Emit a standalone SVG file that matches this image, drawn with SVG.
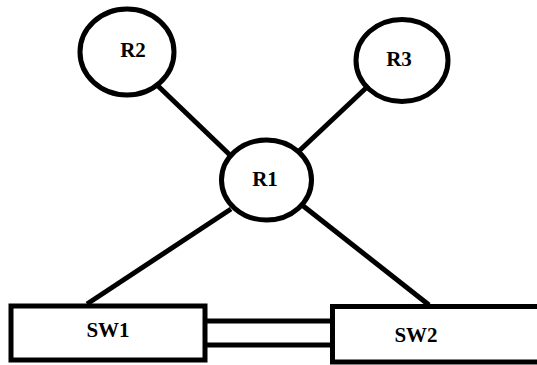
<svg xmlns="http://www.w3.org/2000/svg" width="537" height="365" viewBox="0 0 537 365">
  <style>
    .shape { fill: #ffffff; stroke: #000000; stroke-width: 5; }
    .link { stroke: #000000; stroke-width: 5; fill: none; }
    .label { font-family: "Liberation Serif", "Times New Roman", serif; font-weight: bold; font-size: 21px; fill: #000000; text-anchor: middle; }
  </style>
  <rect width="537" height="365" fill="#ffffff"/>

  <!-- links between devices -->
  <g id="connectors">
    <line class="link" x1="158" y1="86" x2="231" y2="156"/>
    <line class="link" x1="366" y1="88" x2="298" y2="152"/>
    <line class="link" x1="231" y1="209" x2="87" y2="304"/>
    <line class="link" x1="302" y1="205" x2="429" y2="305"/>
    <line class="link" x1="205" y1="321" x2="334" y2="321"/>
    <line class="link" x1="205" y1="345" x2="334" y2="345"/>
  </g>

  <g id="R2">
    <ellipse class="shape" cx="127" cy="52" rx="47" ry="43"/>
    <text class="label" x="133" y="57">R2</text>
  </g>
  <g id="R3">
    <ellipse class="shape" cx="402" cy="60.5" rx="46" ry="41"/>
    <text class="label" x="399" y="66">R3</text>
  </g>
  <g id="R1">
    <ellipse class="shape" cx="266.5" cy="180" rx="45" ry="40"/>
    <text class="label" x="265" y="186">R1</text>
  </g>
  <g id="SW1">
    <rect class="shape" x="11" y="306" width="194" height="54"/>
    <text class="label" x="108" y="337">SW1</text>
  </g>
  <g id="SW2">
    <rect class="shape" x="332.5" y="306.5" width="215" height="55.5"/>
    <text class="label" x="416" y="342">SW2</text>
  </g>
</svg>
